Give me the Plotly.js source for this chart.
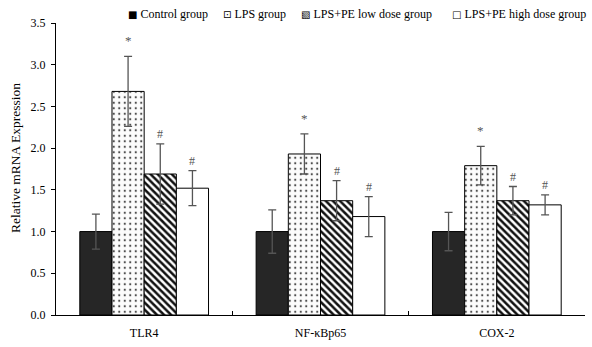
<!DOCTYPE html>
<html>
<head>
<meta charset="utf-8">
<script src="https://cdn.plot.ly/plotly-3.0.1.min.js"></script>
<style>html,body{margin:0;padding:0;background:#fff;}#chart{width:592px;height:347px;}</style>
</head>
<body>
<div id="chart"></div>
<script>
const categories = ["TLR4", "NF-κBp65", "COX-2"];
const groupNames = ["Control group", "LPS group", "LPS+PE low dose group", "LPS+PE high dose group"];
const legendGlyphs = ["■", "⊡", "▧", "□"];
const yTitle = "Relative mRNA Expression";
const controlVals = [1.00, 1.00, 1.00];
const controlErr  = [0.21, 0.26, 0.23];
const lpsVals     = [2.68, 1.93, 1.79];
const lpsErr      = [0.42, 0.24, 0.23];
const lowVals     = [1.69, 1.37, 1.37];
const lowErr      = [0.36, 0.24, 0.17];
const highVals    = [1.52, 1.18, 1.32];
const highErr     = [0.21, 0.24, 0.12];
const lpsMarks    = ["*", "*", "*"];
const lowMarks    = ["#", "#", "#"];
const highMarks   = ["#", "#", "#"];

const FONT = "Liberation Serif, Times New Roman, serif";
const seriesVals = [controlVals, lpsVals, lowVals, highVals];
const seriesErr = [controlErr, lpsErr, lowErr, highErr];
const seriesMarks = [null, lpsMarks, lowMarks, highMarks];
const markers = [
  {color: "#262626", line: {color: "#000", width: 1}},
  {color: "#fcfcfc", line: {color: "#000", width: 1}, pattern: {shape: ".", fgcolor: "#4a4a4a", bgcolor: "#fcfcfc", size: 5.5, solidity: 0.12}},
  {color: "#fff", line: {color: "#000", width: 1}, pattern: {shape: "\\", fgcolor: "#111", bgcolor: "#fff", size: 5, solidity: 0.5}},
  {color: "#fff", line: {color: "#000", width: 1}}
];

const traces = seriesVals.map((vals, i) => ({
  type: "bar",
  name: groupNames[i],
  x: categories,
  y: vals,
  marker: markers[i],
  showlegend: false,
  error_y: {type: "data", array: seriesErr[i], visible: true, color: "#555", thickness: 1.3, width: 4}
}));

const PLOT_L = 56, PLOT_W = 529, PLOT_T = 23, PLOT_H = 292;
const legendX = [126, 221, 299, 450];

const layout = {
  width: 592, height: 347,
  margin: {l: PLOT_L, r: 592 - PLOT_L - PLOT_W, t: PLOT_T, b: 347 - PLOT_T - PLOT_H},
  paper_bgcolor: "#fff", plot_bgcolor: "#fff",
  font: {family: FONT, size: 12, color: "#000"},
  barmode: "group", bargap: 0.27, bargroupgap: 0,
  showlegend: false,
  xaxis: {type: "category", showline: true, linecolor: "#000", linewidth: 1,
    ticks: "inside", ticklen: 4, tickson: "boundaries", tickcolor: "#000",
    ticklabelstandoff: 7,
    tickfont: {family: FONT, size: 12}, showgrid: false, zeroline: false, fixedrange: true},
  yaxis: {range: [0, 3.5], dtick: 0.5, tickformat: ".1f", showline: true, linecolor: "#000", linewidth: 1,
    ticks: "outside", ticklen: 4, tickcolor: "#000", showgrid: false, zeroline: false,
    ticklabelstandoff: 3,
    tickfont: {family: FONT, size: 12}},
  annotations: []
};

// y-axis title (placed as in the reference, slightly above centre)
layout.annotations.push({
  xref: "paper", yref: "paper", x: (15 - PLOT_L) / PLOT_W, y: (PLOT_T + PLOT_H - 158) / PLOT_H,
  xanchor: "center", yanchor: "middle", textangle: -90, showarrow: false,
  text: yTitle, font: {family: FONT, size: 13.5, color: "#000"}
});

// legend as text entries
groupNames.forEach((name, i) => {
  layout.annotations.push({
    xref: "paper", yref: "paper",
    x: (legendX[i] - PLOT_L) / PLOT_W, y: 1 + 9 / PLOT_H,
    xanchor: "left", yanchor: "middle", showarrow: false,
    text: '<span style="font-family:DejaVu Sans;font-size:10px">' + legendGlyphs[i] + '</span> ' + name,
    font: {family: FONT, size: 12, color: "#000"}
  });
});

// significance marks above error bars
const barPx = 32;
seriesMarks.forEach((marks, i) => {
  if (!marks) return;
  categories.forEach((c, j) => {
    layout.annotations.push({
      x: c, y: seriesVals[i][j] + seriesErr[i][j], xref: "x", yref: "y",
      text: marks[j], showarrow: false, yanchor: "bottom",
      yshift: marks[j] === "*" ? 6 : 1,
      xshift: (i - 1.5) * barPx,
      font: {family: FONT, size: marks[j] === "*" ? 13 : 12, color: "#555"}
    });
  });
});

Plotly.newPlot("chart", traces, layout, {displayModeBar: false, staticPlot: true});
</script>
</body>
</html>
